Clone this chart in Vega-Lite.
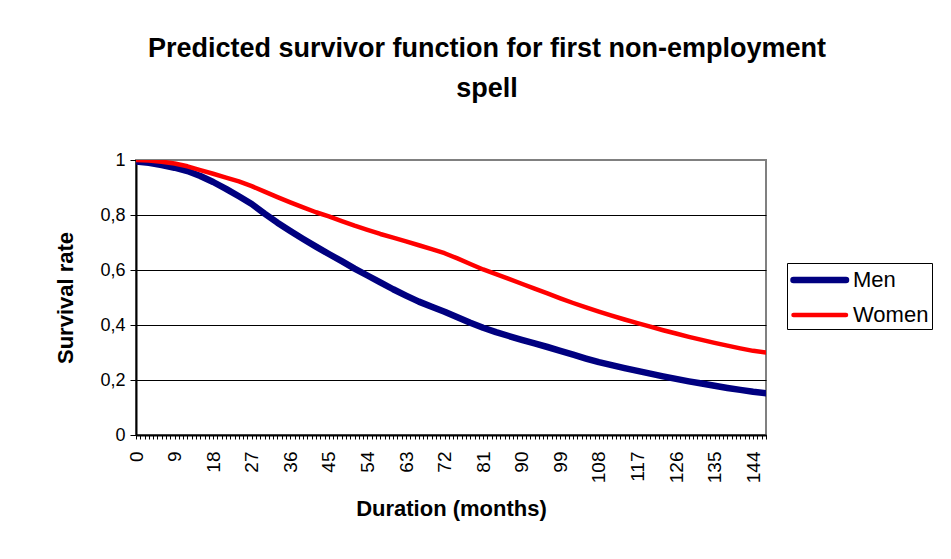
{
  "$schema": "https://vega.github.io/schema/vega-lite/v6.json",
  "width": 630,
  "height": 275,
  "autosize": {"type": "none"},
  "padding": {"left": 136, "top": 160, "right": 185, "bottom": 124},
  "background": "white",
  "config": {
    "font": "Liberation Sans",
    "view": {"stroke": "#808080", "strokeWidth": 2}
  },
  "title": {
    "text": ["Predicted survivor function for first non-employment", "spell"],
    "font": "Liberation Sans",
    "fontSize": 27,
    "fontWeight": "bold",
    "color": "black",
    "anchor": "middle",
    "dx": 36,
    "lineHeight": 40,
    "offset": 48,
    "limit": 900
  },
  "datasets": {
    "survival": [
      {"month": 0, "Men": 0.995, "Women": 1.0},
      {"month": 3, "Men": 0.99, "Women": 0.998},
      {"month": 6, "Men": 0.982, "Women": 0.994},
      {"month": 9, "Men": 0.972, "Women": 0.987},
      {"month": 12, "Men": 0.96, "Women": 0.977},
      {"month": 15, "Men": 0.942, "Women": 0.963},
      {"month": 18, "Men": 0.92, "Women": 0.95},
      {"month": 21, "Men": 0.895, "Women": 0.936},
      {"month": 24, "Men": 0.868, "Women": 0.922},
      {"month": 27, "Men": 0.84, "Women": 0.905},
      {"month": 30, "Men": 0.805, "Women": 0.885},
      {"month": 33, "Men": 0.772, "Women": 0.865},
      {"month": 36, "Men": 0.742, "Women": 0.846},
      {"month": 39, "Men": 0.713, "Women": 0.828},
      {"month": 42, "Men": 0.685, "Women": 0.81},
      {"month": 45, "Men": 0.658, "Women": 0.795},
      {"month": 48, "Men": 0.632, "Women": 0.778},
      {"month": 51, "Men": 0.605, "Women": 0.761},
      {"month": 54, "Men": 0.58, "Women": 0.746},
      {"month": 57, "Men": 0.555, "Women": 0.731},
      {"month": 60, "Men": 0.53, "Women": 0.718},
      {"month": 63, "Men": 0.507, "Women": 0.704},
      {"month": 66, "Men": 0.485, "Women": 0.69},
      {"month": 69, "Men": 0.466, "Women": 0.676},
      {"month": 72, "Men": 0.448, "Women": 0.661},
      {"month": 75, "Men": 0.428, "Women": 0.642},
      {"month": 78, "Men": 0.408, "Women": 0.622},
      {"month": 81, "Men": 0.39, "Women": 0.602},
      {"month": 84, "Men": 0.374, "Women": 0.585},
      {"month": 87, "Men": 0.36, "Women": 0.568},
      {"month": 90, "Men": 0.346, "Women": 0.55},
      {"month": 93, "Men": 0.333, "Women": 0.532},
      {"month": 96, "Men": 0.32, "Women": 0.515},
      {"month": 99, "Men": 0.306, "Women": 0.497},
      {"month": 102, "Men": 0.292, "Women": 0.48},
      {"month": 105, "Men": 0.278, "Women": 0.464},
      {"month": 108, "Men": 0.265, "Women": 0.449},
      {"month": 111, "Men": 0.254, "Women": 0.434},
      {"month": 114, "Men": 0.243, "Women": 0.42},
      {"month": 117, "Men": 0.233, "Women": 0.407},
      {"month": 120, "Men": 0.223, "Women": 0.394},
      {"month": 123, "Men": 0.213, "Women": 0.381},
      {"month": 126, "Men": 0.204, "Women": 0.369},
      {"month": 129, "Men": 0.195, "Women": 0.357},
      {"month": 132, "Men": 0.187, "Women": 0.346},
      {"month": 135, "Men": 0.179, "Women": 0.335},
      {"month": 138, "Men": 0.171, "Women": 0.325},
      {"month": 141, "Men": 0.164, "Women": 0.315},
      {"month": 144, "Men": 0.157, "Women": 0.306},
      {"month": 147, "Men": 0.152, "Women": 0.3}
    ]
  },
  "data": {"name": "survival"},
  "transform": [
    {"fold": ["Men", "Women"], "as": ["series", "rate"]}
  ],
  "mark": {"type": "line", "strokeCap": "round", "strokeJoin": "round", "clip": true},
  "encoding": {
    "x": {
      "field": "month",
      "type": "quantitative",
      "scale": {"domain": [0, 147], "nice": false, "zero": false},
      "axis": {
        "title": "Duration (months)",
        "titleFont": "Liberation Sans",
        "titleFontSize": 22,
        "titleFontWeight": "bold",
        "titleColor": "black",
        "titlePadding": 16,
        "values": [0,1,2,3,4,5,6,7,8,9,10,11,12,13,14,15,16,17,18,19,20,21,22,23,24,25,26,27,28,29,30,31,32,33,34,35,36,37,38,39,40,41,42,43,44,45,46,47,48,49,50,51,52,53,54,55,56,57,58,59,60,61,62,63,64,65,66,67,68,69,70,71,72,73,74,75,76,77,78,79,80,81,82,83,84,85,86,87,88,89,90,91,92,93,94,95,96,97,98,99,100,101,102,103,104,105,106,107,108,109,110,111,112,113,114,115,116,117,118,119,120,121,122,123,124,125,126,127,128,129,130,131,132,133,134,135,136,137,138,139,140,141,142,143,144,145,146,147],
        "labelExpr": "datum.value % 9 === 0 ? datum.value : ''",
        "labelOverlap": false,
        "labelAngle": -90,
        "labelFont": "Liberation Sans",
        "labelFontSize": 19,
        "labelColor": "black",
        "labelPadding": 12,
        "labelBound": false,
        "labelFlush": false,
        "tickSize": 4,
        "tickColor": "black",
        "tickWidth": 1,
        "domainColor": "black",
        "domainWidth": 2,
        "grid": false
      }
    },
    "y": {
      "field": "rate",
      "type": "quantitative",
      "scale": {"domain": [0, 1], "nice": false},
      "axis": {
        "title": "Survival rate",
        "titleFont": "Liberation Sans",
        "titleFontSize": 22,
        "titleFontWeight": "bold",
        "titleColor": "black",
        "titlePadding": 22,
        "values": [0, 0.2, 0.4, 0.6, 0.8, 1],
        "format": "~g",
        "labelExpr": "replace(datum.label, '.', ',')",
        "labelFont": "Liberation Sans",
        "labelFontSize": 18,
        "labelColor": "black",
        "labelPadding": 5,
        "labelFlush": false,
        "tickSize": 6,
        "tickColor": "black",
        "tickWidth": 1,
        "domainColor": "black",
        "domainWidth": 2,
        "grid": true,
        "gridColor": {"condition": {"test": "datum.value === 1", "value": "#808080"}, "value": "black"},
        "gridWidth": 1,
        "gridOpacity": 1
      }
    },
    "color": {
      "field": "series",
      "type": "nominal",
      "scale": {"domain": ["Men", "Women"], "range": ["#000080", "#FF0000"]},
      "legend": {
        "title": null,
        "orient": "none",
        "legendX": 651,
        "legendY": 103,
        "strokeColor": "black",
        "fillColor": "white",
        "padding": 3,
        "rowPadding": 9,
        "symbolType": "M-1,0H4",
        "symbolSize": 441,
        "labelFont": "Liberation Sans",
        "labelFontSize": 22,
        "labelColor": "black",
        "labelOffset": 35,
        "encode": {"symbols": {"update": {"strokeCap": {"value": "round"}}}}
      }
    },
    "strokeWidth": {
      "field": "series",
      "type": "nominal",
      "scale": {"domain": ["Men", "Women"], "range": [6.5, 4.5]},
      "legend": null
    }
  }
}
